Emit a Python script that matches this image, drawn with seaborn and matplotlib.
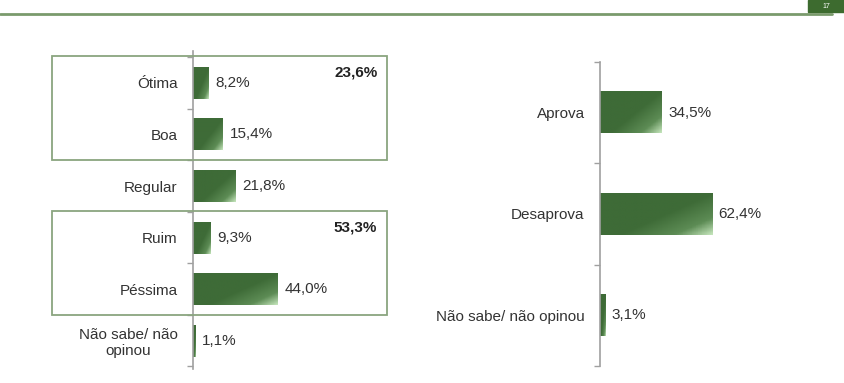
import numpy as np
import pandas as pd
import matplotlib
matplotlib.use("Agg")
import matplotlib.pyplot as plt
import matplotlib.transforms as mtransforms
from matplotlib.patches import Rectangle
from matplotlib.colors import LinearSegmentedColormap
import seaborn as sns

# Data
aval_labels = ["Ótima", "Boa", "Regular", "Ruim", "Péssima", "Não sabe/ não\nopinou"]
aval_values = [8.2, 15.4, 21.8, 9.3, 44.0, 1.1]
aval_groups = [("23,6%", 0, 1), ("53,3%", 3, 4)]

aprov_labels = ["Aprova", "Desaprova", "Não sabe/ não opinou"]
aprov_values = [34.5, 62.4, 3.1]

page_number = "17"

sns.set_theme(style="white")
plt.rcParams["font.family"] = ["Liberation Sans", "DejaVu Sans"]

DARK = "#3e6b37"
TEXT = "#333333"
FS = 11
green_cmap = LinearSegmentedColormap.from_list(
    "g", [(0, "#3e6b37"), (0.55, "#3e6b37"), (0.82, "#5d8c55"), (1, "#c2e3b9")])


def fmt(v):
    return f"{v:.1f}%".replace(".", ",")


def gradient_bars(ax):
    xl, yl = ax.get_xlim(), ax.get_ylim()
    for p in ax.patches:
        x0, y0 = p.get_x(), p.get_y()
        w, h = p.get_width(), p.get_height()
        gx, gy = np.meshgrid(np.linspace(0, 1, 60), np.linspace(0, 1, 30))
        grad = (gx * 0.55 + gy * 0.45)
        ax.imshow(grad, extent=[x0, x0 + w, y0 + h, y0], origin="upper",
                  cmap=green_cmap, vmin=0, vmax=1, aspect="auto",
                  clip_path=p, clip_on=True, zorder=2)
    ax.set_xlim(xl)
    ax.set_ylim(yl)


def style_axis(ax, n, pad):
    for s in ["top", "right", "bottom"]:
        ax.spines[s].set_visible(False)
    ax.spines["left"].set_color("#a0a0a0")
    ax.spines["left"].set_linewidth(1.2)
    ax.set_xticks([])
    ax.set_yticks(np.arange(-0.5, n, 1.0), minor=True)
    ax.tick_params(axis="y", which="major", left=False, length=0, pad=pad,
                   labelsize=FS, labelcolor=TEXT)
    ax.tick_params(axis="y", which="minor", left=True, length=4, width=1,
                   color="#a0a0a0", direction="out")
    ax.set_xlabel("")
    ax.set_ylabel("")


fig = plt.figure(figsize=(8.45, 3.83), dpi=100)

# header line and page tag
fig.add_artist(plt.Line2D([0, 0.985], [1 - 14 / 383] * 2, color="#7a9a6c", lw=2))
fig.add_artist(Rectangle((808 / 845, 1 - 12 / 383), 37 / 845, 12 / 383,
                         color="#3d6b2f", transform=fig.transFigure))
fig.text(826 / 845, 1 - 6 / 383, page_number, color="white", fontsize=5,
         ha="center", va="center")

# left chart
df_a = pd.DataFrame({"cat": aval_labels, "val": aval_values})
ax1 = fig.add_axes([193 / 845, 1 - 369 / 383, 193 / 845, 318 / 383])
sns.barplot(data=df_a, y="cat", x="val", orient="h", color=DARK,
            width=0.62, ax=ax1, saturation=1)
ax1.set_xlim(0, 100)
ax1.set_ylim(5.55, -0.62)
style_axis(ax1, len(aval_labels), 11)
for t in ax1.get_yticklabels():
    t.set_multialignment("center")
gradient_bars(ax1)
for i, v in enumerate(aval_values):
    ax1.text(v + 3.5, i, fmt(v), va="center", ha="left", fontsize=FS, color=TEXT)

blend = mtransforms.blended_transform_factory(ax1.transAxes, ax1.transData)
for lab, i0, i1 in aval_groups:
    ax1.add_patch(Rectangle((-0.73, i0 - 0.52), 1.735, i1 - i0 + 1.02,
                            transform=blend, fill=False, edgecolor="#8aa57f",
                            lw=1.3, clip_on=False, zorder=3))
    ax1.text(0.955, i0 - 0.2, lab, transform=blend, ha="right", va="center",
             fontsize=FS, fontweight="bold", color="#222222")

# right chart
df_b = pd.DataFrame({"cat": aprov_labels, "val": aprov_values})
ax2 = fig.add_axes([600 / 845, 1 - 366 / 383, 200 / 845, 304 / 383])
sns.barplot(data=df_b, y="cat", x="val", orient="h", color=DARK,
            width=0.41, ax=ax2, saturation=1)
ax2.set_xlim(0, 111.4)
ax2.set_ylim(2.5, -0.5)
style_axis(ax2, len(aprov_labels), 11)
gradient_bars(ax2)
for i, v in enumerate(aprov_values):
    ax2.text(v + 3.5, i, fmt(v), va="center", ha="left", fontsize=FS, color=TEXT)

fig.savefig("out.png", dpi=100, facecolor="white")
